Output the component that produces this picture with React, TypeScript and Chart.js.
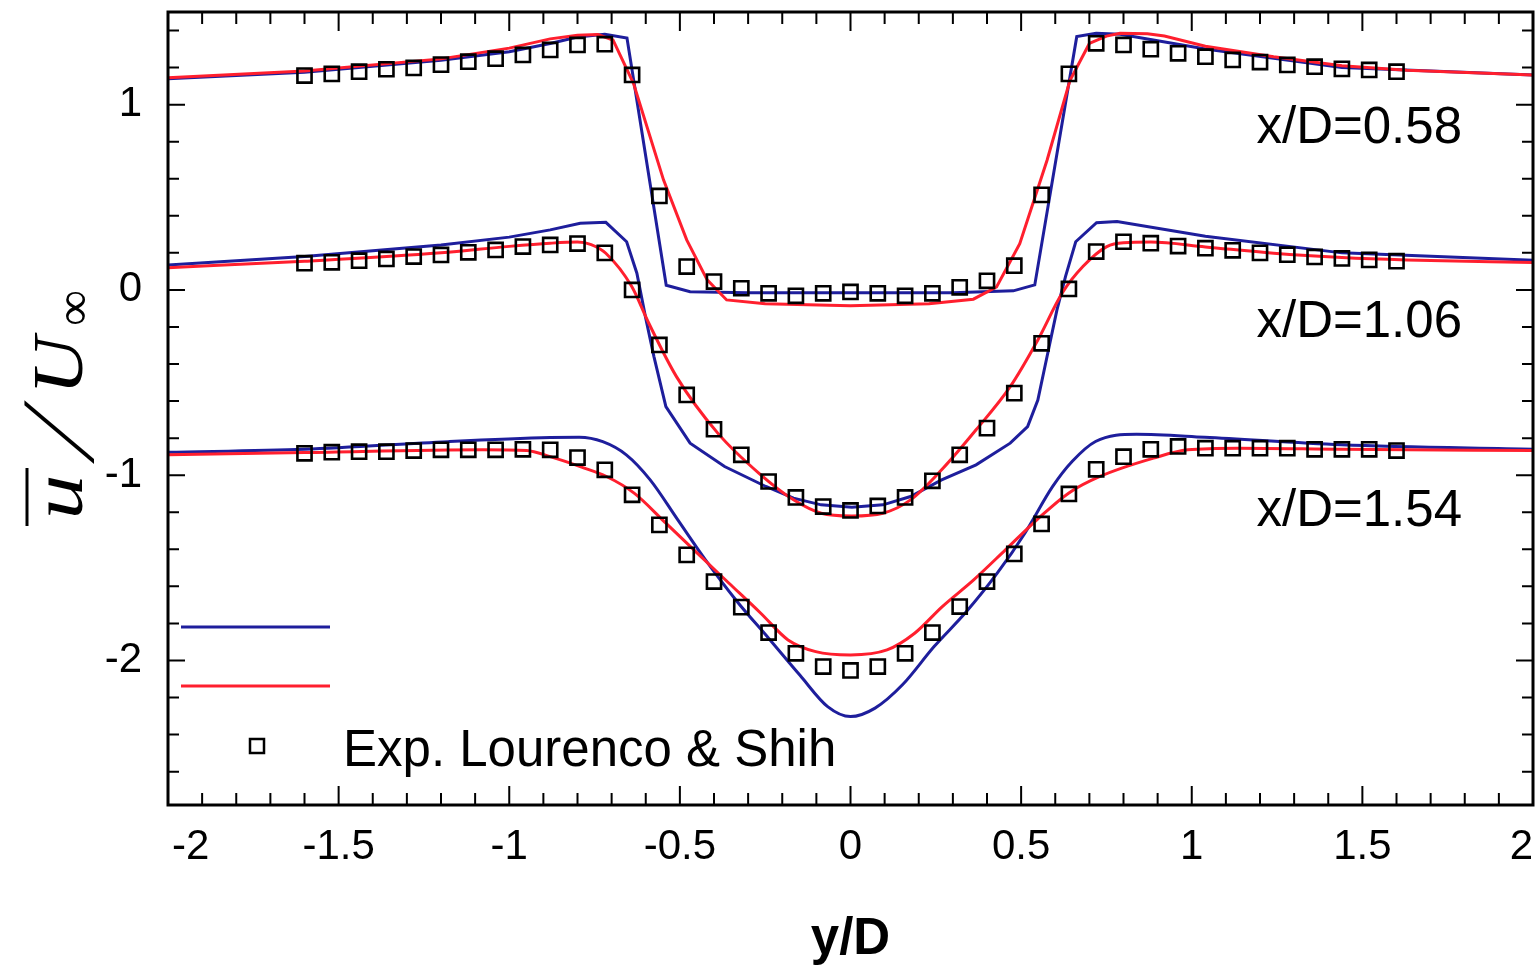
import React, { useEffect, useRef } from 'react';
import { Chart, registerables } from 'chart.js';

Chart.register(...registerables);

const FONT = "'Liberation Sans', Arial, Helvetica, sans-serif";
const SERIF = "'Liberation Serif', 'DejaVu Serif', serif";
const BLUE = '#1e1e9c';
const RED = '#ff1f2e';

const xTickValues = [-2, -1.5, -1, -0.5, 0, 0.5, 1, 1.5, 2];
const xTickLabels = ['-2', '-1.5', '-1', '-0.5', '0', '0.5', '1', '1.5', '2'];
const yTickValues = [-2, -1, 0, 1];

// experimental stations (y/D)
const expX = [-1.6, -1.52, -1.44, -1.36, -1.28, -1.2, -1.12, -1.04, -0.96, -0.88, -0.8, -0.72, -0.64, -0.56, -0.48, -0.4, -0.32, -0.24, -0.16, -0.08, 0,
  0.08, 0.16, 0.24, 0.32, 0.4, 0.48, 0.56, 0.64, 0.72, 0.8, 0.88, 0.96, 1.04, 1.12, 1.2, 1.28, 1.36, 1.44, 1.52, 1.6];

const exp058Y = [1.157, 1.166, 1.178, 1.191, 1.198, 1.216, 1.232, 1.248, 1.268, 1.295, 1.322, 1.326, 1.16, 0.507, 0.126, 0.045, 0.009, -0.018, -0.032, -0.018, -0.011,
  -0.018, -0.032, -0.018, 0.014, 0.049, 0.131, 0.513, 1.166, 1.331, 1.322, 1.299, 1.277, 1.259, 1.241, 1.23, 1.214, 1.205, 1.193, 1.187, 1.178];

const exp106Y = [0.144, 0.149, 0.158, 0.167, 0.18, 0.189, 0.203, 0.216, 0.234, 0.243, 0.25, 0.2, 0.0, -0.297, -0.567, -0.752, -0.89, -1.034, -1.12, -1.169, -1.19,
  -1.166, -1.12, -1.03, -0.89, -0.746, -0.557, -0.288, 0.005, 0.207, 0.26, 0.252, 0.237, 0.225, 0.214, 0.2, 0.19, 0.178, 0.17, 0.162, 0.155];

const exp154Y = [-0.882, -0.876, -0.873, -0.873, -0.867, -0.863, -0.863, -0.863, -0.86, -0.863, -0.905, -0.971, -1.106, -1.268, -1.43, -1.574, -1.712, -1.849, -1.961, -2.033, -2.054,
  -2.033, -1.961, -1.849, -1.709, -1.574, -1.425, -1.263, -1.101, -0.968, -0.9, -0.86, -0.845, -0.854, -0.854, -0.854, -0.854, -0.86, -0.86, -0.86, -0.867];

// blue simulation
const blue058X = [-2.0, -1.6, -1.2, -1.0, -0.88, -0.8, -0.72, -0.655, -0.54, -0.47, -0.3, 0, 0.3, 0.477, 0.54, 0.663, 0.72, 0.79, 1.04, 1.44, 2.0];
const blue058Y = [1.14, 1.175, 1.24, 1.285, 1.33, 1.365, 1.38, 1.36, 0.025, -0.01, -0.015, -0.015, -0.015, -0.005, 0.027, 1.367, 1.385, 1.38, 1.3, 1.2, 1.16];

const blue106X = [-2.0, -1.6, -1.2, -1.0, -0.88, -0.792, -0.717, -0.656, -0.626, -0.601, -0.576, -0.541, -0.47, -0.369, -0.248, -0.167, -0.086, 0.004, 0.095, 0.176, 0.267, 0.368, 0.468, 0.519, 0.549, 0.58, 0.605, 0.63, 0.66, 0.721, 0.781, 1.04, 1.44, 2.0];
const blue106Y = [0.135, 0.18, 0.243, 0.285, 0.324, 0.36, 0.365, 0.26, 0.09, -0.144, -0.36, -0.63, -0.827, -0.953, -1.061, -1.124, -1.16, -1.173, -1.16, -1.115, -1.025, -0.944, -0.827, -0.738, -0.594, -0.324, -0.108, 0.072, 0.26, 0.363, 0.369, 0.29, 0.2, 0.16];

const blue154X = [-2.0, -1.6, -1.18, -0.88, -0.795, -0.726, -0.657, -0.587, -0.506, -0.425, -0.333, -0.24, -0.148, -0.067, 0, 0.072, 0.153, 0.245, 0.338, 0.43, 0.511, 0.592, 0.65, 0.718, 0.838, 1.038, 1.438, 2.0];
const blue154Y = [-0.876, -0.86, -0.819, -0.797, -0.795, -0.819, -0.89, -1.025, -1.241, -1.457, -1.68, -1.88, -2.08, -2.249, -2.303, -2.257, -2.13, -1.925, -1.74, -1.529, -1.313, -1.062, -0.925, -0.818, -0.779, -0.795, -0.836, -0.86];

// red simulation
const red058X = [-2.0, -1.6, -1.2, -1.0, -0.88, -0.8, -0.74, -0.696, -0.636, -0.548, -0.48, -0.42, -0.363, -0.25, 0, 0.23, 0.36, 0.428, 0.496, 0.576, 0.643, 0.7, 0.75, 0.79, 0.87, 0.92, 1.04, 1.24, 1.44, 1.63, 2.0];
const red058Y = [1.145, 1.182, 1.247, 1.305, 1.355, 1.375, 1.378, 1.349, 1.115, 0.594, 0.27, 0.054, -0.054, -0.075, -0.085, -0.075, -0.05, 0.016, 0.25, 0.7, 1.13, 1.33, 1.37, 1.385, 1.382, 1.37, 1.315, 1.258, 1.21, 1.185, 1.16];

const red106X = [-2.0, -1.6, -1.2, -1.0, -0.88, -0.8, -0.76, -0.717, -0.641, -0.591, -0.51, -0.389, -0.268, -0.167, -0.086, 0.004, 0.095, 0.176, 0.267, 0.368, 0.468, 0.549, 0.62, 0.681, 0.751, 0.8, 0.88, 1.04, 1.24, 1.44, 1.63, 2.0];
const red106Y = [0.12, 0.155, 0.2, 0.235, 0.252, 0.258, 0.245, 0.198, 0.018, -0.18, -0.468, -0.773, -0.99, -1.133, -1.205, -1.22, -1.205, -1.133, -0.971, -0.755, -0.522, -0.27, -0.018, 0.126, 0.234, 0.255, 0.258, 0.232, 0.198, 0.175, 0.162, 0.148];

const red154X = [-2.0, -1.6, -1.077, -0.949, -0.88, -0.79, -0.715, -0.634, -0.541, -0.449, -0.356, -0.263, -0.183, -0.102, 0, 0.107, 0.188, 0.269, 0.361, 0.454, 0.546, 0.639, 0.731, 0.888, 0.988, 1.138, 1.44, 2.0];
const red154Y = [-0.89, -0.878, -0.863, -0.867, -0.9, -0.955, -1.007, -1.097, -1.259, -1.421, -1.583, -1.745, -1.889, -1.952, -1.97, -1.943, -1.853, -1.709, -1.565, -1.403, -1.241, -1.097, -1.007, -0.908, -0.863, -0.854, -0.86, -0.867];

const profileLabels = ['x/D=0.58', 'x/D=1.06', 'x/D=1.54'];
const legendText = 'Exp. Lourenco & Shih';
const xTitle = 'y/D';

const pts = (xs: number[], ys: number[]) => xs.map((x, i) => ({ x, y: ys[i] }));

const drawScaled = (ctx: any, text: string, x: number, y: number, sx: number) => {
  ctx.save();
  ctx.translate(x, y);
  ctx.scale(sx, 1);
  ctx.fillText(text, 0, 0);
  ctx.restore();
};

const decorPlugin = {
  id: 'decor',
  afterDatasetsDraw(chart: any) {
    const { ctx, chartArea: a, scales } = chart;
    const xs = scales.x;
    const ys = scales.y;
    ctx.save();
    ctx.strokeStyle = '#000';
    ctx.lineWidth = 2;
    // x tick marks (inward, top & bottom)
    for (let i = -20; i <= 20; i++) {
      const px = xs.getPixelForValue(i / 10);
      const len = i % 5 === 0 ? 19 : 12;
      ctx.beginPath();
      ctx.moveTo(px, a.bottom);
      ctx.lineTo(px, a.bottom - len);
      ctx.moveTo(px, a.top);
      ctx.lineTo(px, a.top + len);
      ctx.stroke();
    }
    // y tick marks (inward, left & right)
    for (let i = -13; i <= 7; i++) {
      const py = ys.getPixelForValue(i / 5);
      const len = i % 5 === 0 ? 17 : 11;
      ctx.beginPath();
      ctx.moveTo(a.left, py);
      ctx.lineTo(a.left + len, py);
      ctx.moveTo(a.right, py);
      ctx.lineTo(a.right - len, py);
      ctx.stroke();
    }
    // frame
    ctx.lineWidth = 3;
    ctx.strokeRect(a.left, a.top, a.right - a.left, a.bottom - a.top);

    // x tick labels (edge labels kept inside the frame)
    ctx.fillStyle = '#000';
    ctx.font = `42px ${FONT}`;
    ctx.textBaseline = 'middle';
    xTickValues.forEach((v, i) => {
      ctx.textAlign = i === 0 ? 'left' : i === xTickValues.length - 1 ? 'right' : 'center';
      const px = xs.getPixelForValue(v) + (i === 0 ? 4 : 0);
      ctx.fillText(xTickLabels[i], px, a.bottom + 42);
    });

    // profile labels
    ctx.font = `51px ${FONT}`;
    ctx.textAlign = 'right';
    ctx.textBaseline = 'alphabetic';
    const labelBase = [0.793, -0.254, -1.274];
    profileLabels.forEach((t, i) => {
      ctx.fillText(t, xs.getPixelForValue(1.792), ys.getPixelForValue(labelBase[i]));
    });

    // legend
    ctx.lineWidth = 3;
    ctx.strokeStyle = BLUE;
    ctx.beginPath();
    ctx.moveTo(181, 627);
    ctx.lineTo(330, 627);
    ctx.stroke();
    ctx.strokeStyle = RED;
    ctx.beginPath();
    ctx.moveTo(181, 686);
    ctx.lineTo(330, 686);
    ctx.stroke();
    ctx.strokeStyle = '#000';
    ctx.lineWidth = 2.5;
    ctx.strokeRect(257 - 7, 746 - 7, 14, 14);
    ctx.textAlign = 'left';
    ctx.font = `51px ${FONT}`;
    ctx.fillText(legendText, 343, 766);

    // y axis title  ū/U∞ (rotated)
    ctx.save();
    ctx.translate(82, 406);
    ctx.rotate(-Math.PI / 2);
    ctx.textAlign = 'center';
    ctx.textBaseline = 'alphabetic';
    ctx.font = `italic 72px ${SERIF}`;
    drawScaled(ctx, 'u', -91, 0, 1.25);
    // long slanted solidus
    ctx.save();
    ctx.font = `104px ${SERIF}`;
    ctx.transform(1, 0, -0.5, 1, -43, 11);
    ctx.fillText('/', 0, 0);
    ctx.restore();
    ctx.font = `italic 72px ${SERIF}`;
    drawScaled(ctx, 'U', 40, 0, 1.12);
    ctx.font = `50px ${SERIF}`;
    ctx.fillText('\u221E', 98, 8);
    ctx.lineWidth = 3;
    ctx.strokeStyle = '#000';
    ctx.beginPath();
    ctx.moveTo(-120, -55);
    ctx.lineTo(-62, -55);
    ctx.stroke();
    ctx.restore();

    ctx.restore();
  },
};

export default function App() {
  const ref = useRef<HTMLCanvasElement | null>(null);
  useEffect(() => {
    document.body.style.margin = '0';
    if (!ref.current) return;
    const lineDs = (label: string, xs: number[], ys: number[], color: string, smooth: boolean) => ({
      label,
      data: pts(xs, ys),
      showLine: true,
      borderColor: color,
      backgroundColor: color,
      borderWidth: 3,
      pointRadius: 0,
      tension: 0,
      cubicInterpolationMode: smooth ? 'monotone' : 'default',
    });
    const expDs = (ys: number[]) => ({
      label: legendText,
      data: pts(expX, ys),
      showLine: false,
      pointStyle: 'rect',
      pointRadius: 10,
      borderColor: '#000',
      backgroundColor: 'rgba(255,255,255,0)',
      borderWidth: 2.6,
    });
    const chart = new Chart(ref.current, {
      type: 'scatter',
      data: {
        datasets: [
          expDs(exp058Y),
          expDs(exp106Y),
          expDs(exp154Y),
          lineDs('red x/D=0.58', red058X, red058Y, RED, false),
          lineDs('red x/D=1.06', red106X, red106Y, RED, true),
          lineDs('red x/D=1.54', red154X, red154Y, RED, true),
          lineDs('blue x/D=0.58', blue058X, blue058Y, BLUE, false),
          lineDs('blue x/D=1.06', blue106X, blue106Y, BLUE, false),
          lineDs('blue x/D=1.54', blue154X, blue154Y, BLUE, true),
        ] as any,
      },
      options: {
        animation: false,
        responsive: false,
        maintainAspectRatio: false,
        devicePixelRatio: 1,
        layout: { autoPadding: false, padding: { top: 12, right: 2, left: 0, bottom: 0 } },
        plugins: { legend: { display: false }, tooltip: { enabled: false } },
        scales: {
          x: {
            type: 'linear',
            position: 'bottom',
            min: -2,
            max: 2,
            afterBuildTicks: (s: any) => {
              s.ticks = xTickValues.map((v) => ({ value: v }));
            },
            afterFit: (s: any) => {
              s.height = 161;
              s.paddingLeft = 0;
              s.paddingRight = 0;
            },
            grid: { display: false, drawTicks: false },
            border: { display: false },
            ticks: { display: false },
            title: {
              display: true,
              text: xTitle,
              color: '#000',
              font: { family: FONT, size: 51, weight: 'bold', lineHeight: 1 },
              padding: { top: 0, bottom: 1 },
            },
          },
          y: {
            type: 'linear',
            min: -2.78,
            max: 1.5,
            afterBuildTicks: (s: any) => {
              s.ticks = yTickValues.map((v) => ({ value: v }));
            },
            afterFit: (s: any) => {
              s.width = 168;
              s.paddingTop = 0;
              s.paddingBottom = 0;
            },
            grid: { display: false, drawTicks: false },
            border: { display: false },
            ticks: {
              padding: 26,
              autoSkip: false,
              color: '#000',
              font: { family: FONT, size: 42 },
              callback: (v: any) => String(v),
            },
          },
        },
      } as any,
      plugins: [decorPlugin],
    });
    return () => chart.destroy();
  }, []);
  return (
    <div style={{ width: 1535, height: 966, background: '#fff' }}>
      <canvas ref={ref} width={1535} height={966} style={{ display: 'block' }} />
    </div>
  );
}
